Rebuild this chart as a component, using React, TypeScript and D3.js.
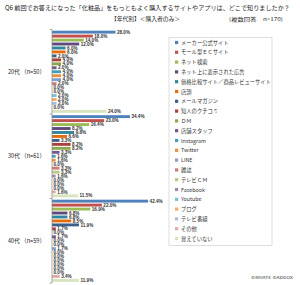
import { scaleBand, scaleLinear } from 'd3';

const groups = ['20代', '30代', '40代'];
const groupLabels = ['20代 （n=50）', '30代 （n=61）', '40代 （n=59）'];

const items = [
  'メーカー公式サイト',
  'モール型ＥＣサイト',
  'ネット検索',
  'ネット上に表示された広告',
  '価格比較サイト／商品レビューサイト',
  '店頭',
  'メールマガジン',
  '知人のクチコミ',
  'ＤＭ',
  '店舗スタッフ',
  'Instagram',
  'Twitter',
  'LINE',
  '雑誌',
  'テレビＣＭ',
  'Facebook',
  'Youtube',
  'ブログ',
  'テレビ番組',
  'その他',
  '覚えていない',
];

const values20 = [28.0, 18.0, 14.0, 12.0, 6.0, 6.0, 2.0, 4.0, 4.0, 2.0, 4.0, 4.0, 4.0, 2.0, 0.0, 0.0, 2.0, 2.0, 2.0, 0.0, 24.0];
const values30 = [34.4, 23.0, 16.4, 8.2, 9.8, 6.6, 3.3, 8.2, 8.2, 3.3, 1.6, 1.6, 0.0, 3.3, 3.3, 1.6, 0.0, 0.0, 0.0, 1.6, 11.5];
const values40 = [42.4, 22.0, 16.9, 6.8, 6.8, 8.5, 11.9, 1.7, 0.0, 1.7, 0.0, 0.0, 1.7, 0.0, 0.0, 0.0, 0.0, 0.0, 0.0, 3.4, 11.9];

const colors = [
  '#4f81bd', '#c0504d', '#9bbb59', '#604a7b', '#31859c', '#e46c0a',
  '#3a5f8b', '#a9403e', '#8aa84e', '#71588f', '#41a0b8', '#e8903f',
  '#7f9fcf', '#cf7b79', '#b5cc85', '#9c89b8', '#78c0d4', '#f9ab6b',
  '#a7bfde', '#e0a9a8', '#d7e4bd',
];

const font = '"Noto Sans CJK JP", "Noto Sans", sans-serif';

export default function App() {
  const width = 300;
  const height = 285;
  const series = [values20, values30, values40];

  const x = scaleLinear().domain([0, 45]).range([52, 154]);
  const yGroup = scaleBand<string>().domain(groups).range([29.5, 283]).padding(0);
  const yInner = scaleBand<string>()
    .domain(items)
    .range([0, yGroup.bandwidth()])
    .paddingInner(0.27)
    .paddingOuter(0.3);

  const legendX = 169;
  const legendY = 37.5;
  const legendStep = 9.8;

  return (
    <svg
      width={width}
      height={height}
      style={{ position: 'absolute', left: 0, top: 0, background: '#fff' }}
      fontFamily={font}
    >
      <rect width={width} height={height} fill="#fff" />
      {/* Titles */}
      <text x={5} y={10} fontSize={6.2} fill="#222" textLength={285} lengthAdjust="spacingAndGlyphs">
        Q6 前回でお答えになった「化粧品」をもっともよく購入するサイトやアプリは、どこで知りましたか？
      </text>
      <text x={111} y={21} fontSize={5.6} fill="#222" textLength={69} lengthAdjust="spacingAndGlyphs">
        【年代別】＜購入者のみ＞
      </text>
      <text x={229} y={21} fontSize={5} fill="#222" textLength={54} lengthAdjust="spacingAndGlyphs">
        (複数回答　n=170)
      </text>

      {/* Bars */}
      {groups.map((g, gi) => {
        const y0 = yGroup(g) ?? 0;
        return (
          <g key={g}>
            {items.map((it, i) => {
              const v = series[gi][i];
              const y = y0 + (yInner(it) ?? 0);
              const bw = yInner.bandwidth();
              return (
                <g key={it}>
                  <rect x={x(0)} y={y} width={x(v) - x(0)} height={bw} fill={colors[i]} />
                  <text
                    x={x(v) + 1.5}
                    y={y + bw / 2 + 1.6}
                    fontSize={4.6}
                    fontWeight="bold"
                    fill="#333"
                    fontFamily='"Liberation Sans", Arial, sans-serif'
                  >
                    {v.toFixed(1)}%
                  </text>
                </g>
              );
            })}
            <text x={8} y={y0 + yGroup.bandwidth() / 2 + 2} fontSize={5.8} fill="#222" textLength={37} lengthAdjust="spacingAndGlyphs">
              {groupLabels[gi]}
            </text>
          </g>
        );
      })}

      {/* Axis */}
      <line x1={x(0)} x2={x(0)} y1={yGroup.range()[0]} y2={yGroup.range()[1]} stroke="#888" strokeWidth={0.7} />
      {[...groups.map((g) => yGroup(g) ?? 0), yGroup.range()[1]].map((t, i) => (
        <line key={i} x1={x(0) - 2.5} x2={x(0)} y1={t} y2={t} stroke="#888" strokeWidth={0.7} />
      ))}

      {/* Legend */}
      <rect
        x={legendX}
        y={legendY}
        width={103}
        height={208}
        fill="#fff"
        stroke="#d0d0d0"
        strokeWidth={0.7}
      />
      {items.map((it, i) => (
        <g key={it} transform={`translate(${legendX + 6},${legendY + 5 + i * legendStep})`}>
          <rect x={0} y={-1.6} width={3.2} height={3.2} fill={colors[i]} />
          <text x={6} y={2} fontSize={5.3} fill="#333">
            {it}
          </text>
        </g>
      ))}

      {/* Footer */}
      <text x={251} y={279} fontSize={4} fill="#333" textLength={42} lengthAdjust="spacingAndGlyphs">
        ©RIVATE ©ADDOX
      </text>
    </svg>
  );
}
